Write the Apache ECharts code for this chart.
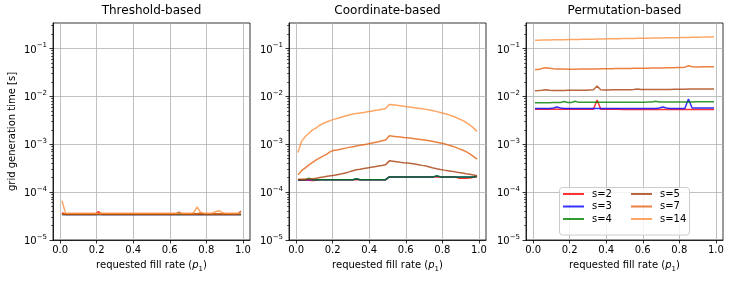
<!DOCTYPE html>
<html><head><meta charset="utf-8">
<script src="https://cdn.jsdelivr.net/npm/echarts@6/dist/echarts.min.js"></script>
<style>html,body{margin:0;padding:0;background:#fff}#c{width:730px;height:282px}</style>
</head><body><div id="c"></div>
<script>
// requested fill rate sample points
const P = [0.01,0.03,0.05,0.07,0.09,0.11,0.13,0.15,0.17,0.19,
           0.21,0.23,0.25,0.27,0.29,0.31,0.33,0.35,0.37,0.39,
           0.41,0.43,0.45,0.47,0.49,0.51,0.53,0.55,0.57,0.59,
           0.61,0.63,0.65,0.67,0.69,0.71,0.73,0.75,0.77,0.79,
           0.81,0.83,0.85,0.87,0.89,0.91,0.93,0.95,0.97,0.99];
const SERIES_NAMES = ['s=2','s=3','s=4','s=5','s=7','s=14'];
const PANEL_TITLES = ['Threshold-based','Coordinate-based','Permutation-based'];
const X_TICKS = [0,0.2,0.4,0.6,0.8,1.0];
const Y_TICKS = [1e-5,1e-4,1e-3,1e-2,1e-1];
const Y_MINOR = [2e-5,3e-5,4e-5,5e-5,6e-5,7e-5,8e-5,9e-5,
                 2e-4,3e-4,4e-4,5e-4,6e-4,7e-4,8e-4,9e-4,
                 2e-3,3e-3,4e-3,5e-3,6e-3,7e-3,8e-3,9e-3,
                 2e-2,3e-2,4e-2,5e-2,6e-2,7e-2,8e-2,9e-2,
                 2e-1,3e-1];

// Threshold-based
const T2 = [3.7e-5,3.4e-5,3.4e-5,3.4e-5,3.4e-5,3.4e-5,3.4e-5,3.4e-5,3.4e-5,3.4e-5,
            3.9e-5,3.4e-5,3.4e-5,3.4e-5,3.4e-5,3.4e-5,3.4e-5,3.4e-5,3.4e-5,3.4e-5,
            3.4e-5,3.4e-5,3.4e-5,3.4e-5,3.4e-5,3.4e-5,3.4e-5,3.4e-5,3.4e-5,3.4e-5,
            3.4e-5,3.4e-5,3.4e-5,3.4e-5,3.4e-5,3.4e-5,3.4e-5,3.4e-5,3.4e-5,3.4e-5,
            3.4e-5,3.4e-5,3.4e-5,3.4e-5,3.4e-5,3.4e-5,3.4e-5,3.4e-5,3.4e-5,3.4e-5];
const T3 = [3.4e-5,3.4e-5,3.4e-5,3.4e-5,3.4e-5,3.4e-5,3.4e-5,3.4e-5,3.4e-5,3.4e-5,
            3.4e-5,3.4e-5,3.4e-5,3.4e-5,3.4e-5,3.4e-5,3.4e-5,3.4e-5,3.4e-5,3.4e-5,
            3.4e-5,3.4e-5,3.4e-5,3.4e-5,3.4e-5,3.4e-5,3.4e-5,3.4e-5,3.4e-5,3.4e-5,
            3.4e-5,3.4e-5,3.4e-5,3.4e-5,3.4e-5,3.4e-5,3.4e-5,3.4e-5,3.4e-5,3.4e-5,
            3.4e-5,3.4e-5,3.4e-5,3.4e-5,3.4e-5,3.4e-5,3.4e-5,3.4e-5,3.4e-5,3.4e-5];
const T4 = [3.4e-5,3.4e-5,3.4e-5,3.4e-5,3.4e-5,3.4e-5,3.4e-5,3.4e-5,3.4e-5,3.4e-5,
            3.4e-5,3.4e-5,3.4e-5,3.4e-5,3.4e-5,3.4e-5,3.4e-5,3.4e-5,3.4e-5,3.4e-5,
            3.4e-5,3.4e-5,3.4e-5,3.4e-5,3.4e-5,3.4e-5,3.4e-5,3.4e-5,3.4e-5,3.4e-5,
            3.4e-5,3.4e-5,3.4e-5,3.4e-5,3.4e-5,3.4e-5,3.4e-5,3.4e-5,3.4e-5,3.4e-5,
            3.4e-5,3.4e-5,3.4e-5,3.4e-5,3.4e-5,3.4e-5,3.4e-5,3.4e-5,3.4e-5,3.4e-5];
const T5 = [3.45e-5,3.45e-5,3.45e-5,3.45e-5,3.45e-5,3.45e-5,3.45e-5,3.45e-5,3.45e-5,3.45e-5,
            3.45e-5,3.45e-5,3.45e-5,3.45e-5,3.45e-5,3.45e-5,3.45e-5,3.45e-5,3.45e-5,3.45e-5,
            3.45e-5,3.45e-5,3.45e-5,3.45e-5,3.45e-5,3.45e-5,3.45e-5,3.45e-5,3.45e-5,3.45e-5,
            3.45e-5,3.45e-5,3.8e-5,3.45e-5,3.45e-5,3.45e-5,3.45e-5,3.45e-5,3.45e-5,3.45e-5,
            3.45e-5,3.45e-5,3.45e-5,3.45e-5,3.45e-5,3.45e-5,3.45e-5,3.45e-5,3.45e-5,4.0e-5];
const T7 = [3.55e-5,3.55e-5,3.55e-5,3.55e-5,3.55e-5,3.55e-5,3.55e-5,3.55e-5,3.55e-5,3.55e-5,
            3.55e-5,3.55e-5,3.55e-5,3.55e-5,3.55e-5,3.55e-5,3.55e-5,3.55e-5,3.55e-5,3.55e-5,
            3.55e-5,3.55e-5,3.55e-5,3.55e-5,3.55e-5,3.55e-5,3.55e-5,3.55e-5,3.55e-5,3.55e-5,
            3.55e-5,3.55e-5,3.55e-5,3.55e-5,3.55e-5,3.55e-5,3.55e-5,3.55e-5,3.7e-5,3.55e-5,
            3.55e-5,3.55e-5,3.55e-5,3.55e-5,3.55e-5,3.55e-5,3.55e-5,3.55e-5,3.55e-5,3.55e-5];
const T14 = [6.6e-5,3.6e-5,3.6e-5,3.6e-5,3.6e-5,3.6e-5,3.6e-5,3.6e-5,3.6e-5,3.6e-5,
             3.6e-5,3.6e-5,3.6e-5,3.6e-5,3.6e-5,3.6e-5,3.6e-5,3.6e-5,3.6e-5,3.6e-5,
             3.6e-5,3.6e-5,3.6e-5,3.6e-5,3.6e-5,3.6e-5,3.6e-5,3.6e-5,3.6e-5,3.6e-5,
             3.6e-5,3.6e-5,3.6e-5,3.6e-5,3.6e-5,3.6e-5,3.7e-5,4.9e-5,3.7e-5,3.6e-5,
             3.6e-5,3.6e-5,3.9e-5,4.1e-5,3.7e-5,3.6e-5,3.6e-5,3.6e-5,3.6e-5,3.6e-5];

// Coordinate-based
const C2 = [1.78e-4,1.78e-4,1.8e-4,1.76e-4,1.75e-4,1.76e-4,1.82e-4,1.82e-4,1.82e-4,1.82e-4,
            1.82e-4,1.82e-4,1.82e-4,1.82e-4,1.82e-4,1.82e-4,1.82e-4,1.82e-4,1.82e-4,1.82e-4,
            1.82e-4,1.82e-4,1.82e-4,1.82e-4,1.82e-4,2.08e-4,2.08e-4,2.08e-4,2.08e-4,2.08e-4,
            2.08e-4,2.08e-4,2.08e-4,2.08e-4,2.08e-4,2.08e-4,2.08e-4,2.08e-4,2.08e-4,2.08e-4,
            2.08e-4,2.08e-4,2.08e-4,2.08e-4,1.96e-4,1.95e-4,1.95e-4,1.97e-4,2.05e-4,2.1e-4];
const C3 = [1.8e-4,1.82e-4,1.82e-4,1.82e-4,1.82e-4,1.82e-4,1.82e-4,1.82e-4,1.82e-4,1.82e-4,
            1.82e-4,1.82e-4,1.82e-4,1.82e-4,1.82e-4,1.82e-4,1.9e-4,1.82e-4,1.82e-4,1.82e-4,
            1.82e-4,1.82e-4,1.82e-4,1.82e-4,1.82e-4,2.08e-4,2.08e-4,2.08e-4,2.08e-4,2.08e-4,
            2.08e-4,2.08e-4,2.08e-4,2.08e-4,2.08e-4,2.08e-4,2.08e-4,2.08e-4,2.18e-4,2.08e-4,
            2.08e-4,2.08e-4,2.08e-4,2.08e-4,2.08e-4,2.08e-4,2.08e-4,2.08e-4,2.08e-4,2.15e-4];
const C4 = [1.82e-4,1.82e-4,1.82e-4,1.96e-4,1.82e-4,1.82e-4,1.82e-4,1.82e-4,1.82e-4,1.82e-4,
            1.82e-4,1.82e-4,1.82e-4,1.82e-4,1.82e-4,1.82e-4,1.9e-4,1.82e-4,1.82e-4,1.82e-4,
            1.82e-4,1.82e-4,1.82e-4,1.82e-4,1.82e-4,2.08e-4,2.08e-4,2.08e-4,2.08e-4,2.08e-4,
            2.08e-4,2.08e-4,2.08e-4,2.08e-4,2.08e-4,2.08e-4,2.08e-4,2.08e-4,2.2e-4,2.08e-4,
            2.08e-4,2.08e-4,2.08e-4,2.08e-4,2.08e-4,2.08e-4,2.08e-4,2.08e-4,2.08e-4,2.15e-4];
const C5 = [1.85e-4,1.85e-4,1.85e-4,1.87e-4,1.9e-4,1.95e-4,2.02e-4,2.08e-4,2.14e-4,2.2e-4,
            2.26e-4,2.33e-4,2.42e-4,2.52e-4,2.65e-4,2.8e-4,2.92e-4,3.0e-4,3.1e-4,3.2e-4,
            3.3e-4,3.4e-4,3.5e-4,3.6e-4,3.75e-4,4.5e-4,4.4e-4,4.3e-4,4.2e-4,4.12e-4,
            4.05e-4,3.95e-4,3.85e-4,3.75e-4,3.62e-4,3.5e-4,3.35e-4,3.2e-4,3.08e-4,2.97e-4,
            2.88e-4,2.8e-4,2.72e-4,2.65e-4,2.57e-4,2.5e-4,2.42e-4,2.35e-4,2.28e-4,2.2e-4];
const C7 = [2.3e-4,2.8e-4,3.2e-4,3.7e-4,4.2e-4,4.7e-4,5.2e-4,5.7e-4,6.3e-4,7.1e-4,
            7.5e-4,7.7e-4,8.0e-4,8.3e-4,8.6e-4,8.9e-4,9.2e-4,9.5e-4,9.8e-4,1.01e-3,
            1.05e-3,1.09e-3,1.13e-3,1.18e-3,1.23e-3,1.5e-3,1.47e-3,1.44e-3,1.41e-3,1.38e-3,
            1.36e-3,1.33e-3,1.3e-3,1.27e-3,1.24e-3,1.21e-3,1.18e-3,1.14e-3,1.1e-3,1.06e-3,
            1.02e-3,9.7e-4,9.2e-4,8.7e-4,8.1e-4,7.6e-4,7.0e-4,6.3e-4,5.6e-4,4.9e-4];
const C14 = [6.7e-4,1.15e-3,1.45e-3,1.7e-3,2.0e-3,2.2e-3,2.5e-3,2.75e-3,2.95e-3,3.15e-3,
             3.35e-3,3.5e-3,3.7e-3,3.9e-3,4.1e-3,4.3e-3,4.4e-3,4.5e-3,4.6e-3,4.75e-3,
             4.9e-3,5.05e-3,5.2e-3,5.4e-3,5.6e-3,6.8e-3,6.65e-3,6.5e-3,6.35e-3,6.2e-3,
             6.1e-3,5.95e-3,5.8e-3,5.65e-3,5.5e-3,5.35e-3,5.2e-3,5.0e-3,4.8e-3,4.6e-3,
             4.4e-3,4.2e-3,3.95e-3,3.7e-3,3.4e-3,3.15e-3,2.85e-3,2.55e-3,2.2e-3,1.85e-3];

// Permutation-based
const Q2 = [5.4e-3,5.4e-3,5.4e-3,5.4e-3,5.4e-3,5.4e-3,5.4e-3,5.4e-3,5.4e-3,5.4e-3,
            5.4e-3,5.4e-3,5.4e-3,5.4e-3,5.4e-3,5.4e-3,5.4e-3,8.4e-3,5.4e-3,5.4e-3,
            5.4e-3,5.4e-3,5.4e-3,5.4e-3,5.35e-3,5.35e-3,5.35e-3,5.35e-3,5.35e-3,5.35e-3,
            5.35e-3,5.35e-3,5.35e-3,5.35e-3,5.35e-3,5.35e-3,5.35e-3,5.3e-3,5.3e-3,5.3e-3,
            5.3e-3,5.3e-3,5.3e-3,5.3e-3,5.3e-3,5.3e-3,5.3e-3,5.3e-3,5.3e-3,5.3e-3];
const Q3 = [5.6e-3,5.6e-3,5.6e-3,5.6e-3,5.6e-3,5.7e-3,6.0e-3,5.7e-3,5.6e-3,5.6e-3,
            5.6e-3,5.6e-3,5.6e-3,5.6e-3,5.6e-3,5.6e-3,5.6e-3,5.6e-3,5.6e-3,5.6e-3,
            5.6e-3,5.6e-3,5.6e-3,5.6e-3,5.6e-3,5.6e-3,5.6e-3,5.6e-3,5.6e-3,5.6e-3,
            5.6e-3,5.6e-3,5.6e-3,5.6e-3,5.7e-3,6.0e-3,5.7e-3,5.6e-3,5.6e-3,5.6e-3,
            5.6e-3,5.6e-3,8.8e-3,5.7e-3,5.7e-3,5.7e-3,5.7e-3,5.7e-3,5.7e-3,5.7e-3];
const Q4 = [7.4e-3,7.4e-3,7.4e-3,7.4e-3,7.4e-3,7.45e-3,7.45e-3,7.45e-3,7.8e-3,7.45e-3,
            7.45e-3,7.9e-3,7.5e-3,7.5e-3,7.5e-3,7.5e-3,7.5e-3,7.5e-3,7.5e-3,7.5e-3,
            7.5e-3,7.5e-3,7.5e-3,7.5e-3,7.55e-3,7.55e-3,7.55e-3,7.55e-3,7.55e-3,7.55e-3,
            7.55e-3,7.6e-3,7.6e-3,7.9e-3,7.6e-3,7.6e-3,7.6e-3,7.6e-3,7.65e-3,7.65e-3,
            7.65e-3,7.65e-3,7.65e-3,7.65e-3,7.7e-3,7.7e-3,7.7e-3,7.7e-3,7.7e-3,7.7e-3];
const Q5 = [1.31e-2,1.32e-2,1.34e-2,1.37e-2,1.34e-2,1.33e-2,1.33e-2,1.33e-2,1.33e-2,1.34e-2,
            1.34e-2,1.34e-2,1.35e-2,1.35e-2,1.35e-2,1.36e-2,1.37e-2,1.64e-2,1.38e-2,1.36e-2,
            1.36e-2,1.37e-2,1.37e-2,1.37e-2,1.37e-2,1.38e-2,1.38e-2,1.4e-2,1.43e-2,1.39e-2,
            1.39e-2,1.39e-2,1.39e-2,1.4e-2,1.4e-2,1.4e-2,1.4e-2,1.4e-2,1.41e-2,1.41e-2,
            1.41e-2,1.41e-2,1.42e-2,1.42e-2,1.42e-2,1.42e-2,1.42e-2,1.42e-2,1.42e-2,1.42e-2];
const Q7 = [3.65e-2,3.65e-2,3.85e-2,3.98e-2,3.85e-2,3.78e-2,3.75e-2,3.72e-2,3.71e-2,3.7e-2,
            3.7e-2,3.7e-2,3.71e-2,3.72e-2,3.72e-2,3.73e-2,3.74e-2,3.75e-2,3.76e-2,3.77e-2,
            3.78e-2,3.79e-2,3.8e-2,3.81e-2,3.82e-2,3.83e-2,3.84e-2,3.85e-2,3.86e-2,3.87e-2,
            3.88e-2,3.89e-2,3.9e-2,3.91e-2,3.92e-2,3.93e-2,3.94e-2,3.95e-2,3.97e-2,3.99e-2,
            4.01e-2,4.08e-2,4.35e-2,4.15e-2,4.12e-2,4.13e-2,4.14e-2,4.14e-2,4.15e-2,4.15e-2];
const Q14 = [0.149,0.1495,0.150,0.1505,0.151,0.1515,0.152,0.1525,0.153,0.1535,
             0.154,0.1545,0.155,0.1555,0.156,0.1565,0.157,0.1575,0.158,0.1585,
             0.159,0.1595,0.160,0.1605,0.161,0.1615,0.162,0.1625,0.163,0.1635,
             0.164,0.1645,0.165,0.1655,0.166,0.1665,0.167,0.1675,0.168,0.1685,
             0.169,0.1695,0.170,0.171,0.172,0.1725,0.173,0.174,0.1745,0.175];

const PANELS = [[T2,T3,T4,T5,T7,T14],[C2,C3,C4,C5,C7,C14],[Q2,Q3,Q4,Q5,Q7,Q14]];
const COLORS = ['rgba(255,0,0,0.8)','rgba(0,0,255,0.8)','rgba(0,128,0,0.8)',
                'rgba(168,62,12,0.8)','rgba(230,98,18,0.8)','rgba(252,145,65,0.8)'];

const FF = 'DejaVu Sans';
const GL = [53, 289, 526], GW = 197, GT = 23, GH = 217;
const Y_MIN = 1e-5, Y_MAX = 0.341;

const grids = GL.map(l => ({left:l, top:GT, width:GW, height:GH, show:true,
  borderColor:'#000', borderWidth:0.8, backgroundColor:'transparent'}));

const xAxes = GL.map((l,i) => ({
  type:'value', gridIndex:i, min:-0.039, max:1.039, splitNumber:5,
  axisLine:{show:true, onZero:false, lineStyle:{color:'#000', width:0.8}},
  axisTick:{show:true, length:3.5, customValues:X_TICKS, lineStyle:{color:'#000', width:0.8}},
  axisLabel:{show:true, customValues:X_TICKS, margin:5, fontSize:10, fontFamily:FF, color:'#000',
    formatter:v => v.toFixed(1)},
  splitLine:{show:true, lineStyle:{color:'#b0b0b0', width:0.8}},
  name:'{n|requested fill rate (}{i|p}{sb|1}{n|)}', nameLocation:'middle', nameGap:13,
  nameTextStyle:{rich:{
    n:{fontSize:10, fontFamily:FF, color:'#000', lineHeight:12, verticalAlign:'top'},
    i:{fontSize:10, fontFamily:FF, fontStyle:'italic', color:'#000', lineHeight:12, verticalAlign:'top'},
    sb:{fontSize:7, fontFamily:FF, color:'#000', lineHeight:8, padding:[6,0,0,0], verticalAlign:'bottom'}
  }}
}));

const yAxes = [];
GL.forEach((l,i) => {
  yAxes.push({
    type:'log', logBase:10, gridIndex:i, min:Y_MIN, max:Y_MAX, position:'left',
    axisLine:{show:true, onZero:false, lineStyle:{color:'#000', width:0.8}},
    axisTick:{show:true, length:3.5, customValues:Y_TICKS, lineStyle:{color:'#000', width:0.8}},
    axisLabel:{show:true, customValues:Y_TICKS, margin:6,
      formatter:v => { const e = Math.round(Math.log10(v)); return '{b|10}{s|\u2212' + Math.abs(e) + '}'; },
      rich:{
        b:{fontSize:10, fontFamily:FF, color:'#000', lineHeight:13, verticalAlign:'bottom'},
        s:{fontSize:7, fontFamily:FF, color:'#000', lineHeight:8, verticalAlign:'top'}
      }},
    splitLine:{show:true, lineStyle:{color:'#b0b0b0', width:0.8}},
    name: i === 0 ? 'grid generation time [s]' : '',
    nameLocation:'middle', nameGap:36, nameRotate:90,
    nameTextStyle:{fontSize:10, fontFamily:FF, color:'#000'}
  });
  yAxes.push({
    type:'log', logBase:10, gridIndex:i, min:Y_MIN, max:Y_MAX, position:'left', offset:0,
    axisLine:{show:false, onZero:false},
    axisTick:{show:true, length:2, customValues:Y_MINOR, lineStyle:{color:'#000', width:0.6}},
    axisLabel:{show:false},
    splitLine:{show:false}
  });
});

const series = [];
PANELS.forEach((arrs, pi) => {
  arrs.forEach((arr, si) => {
    series.push({
      type:'line', name:SERIES_NAMES[si], xAxisIndex:pi, yAxisIndex:pi*2,
      data:P.map((x,j) => [x, arr[j]]),
      showSymbol:false, symbol:'none', smooth:false,
      lineStyle:{color:COLORS[si], width:1.5}, itemStyle:{color:COLORS[si]},
      z:2, animation:false
    });
  });
});

const legendCommon = {
  orient:'vertical', top:189, itemWidth:21, itemHeight:2, itemGap:2.5, icon:'rect',
  padding:0, z:5,
  textStyle:{fontSize:10, fontFamily:FF, color:'#000', padding:[0,0,0,3]}
};

const option = {
  animation:false,
  backgroundColor:'#fff',
  title: PANEL_TITLES.map((t,i) => ({text:t, left:GL[i]+GW/2, top:5, textAlign:'center', padding:0,
    textStyle:{fontSize:12, fontWeight:'normal', fontFamily:FF, color:'#000'}})),
  grid: grids,
  xAxis: xAxes,
  yAxis: yAxes,
  legend: [
    Object.assign({}, legendCommon, {left:563, data:SERIES_NAMES.slice(0,3)}),
    Object.assign({}, legendCommon, {left:631, data:SERIES_NAMES.slice(3)})
  ],
  graphic: [{type:'rect', z:3, shape:{x:559.5, y:187.5, width:130, height:47.5, r:3},
    style:{fill:'rgba(255,255,255,0.8)', stroke:'#cccccc', lineWidth:1}}],
  series: series
};

const chart = echarts.init(document.getElementById('c'), null, {renderer:'canvas'});
chart.setOption(option);
</script></body></html>
